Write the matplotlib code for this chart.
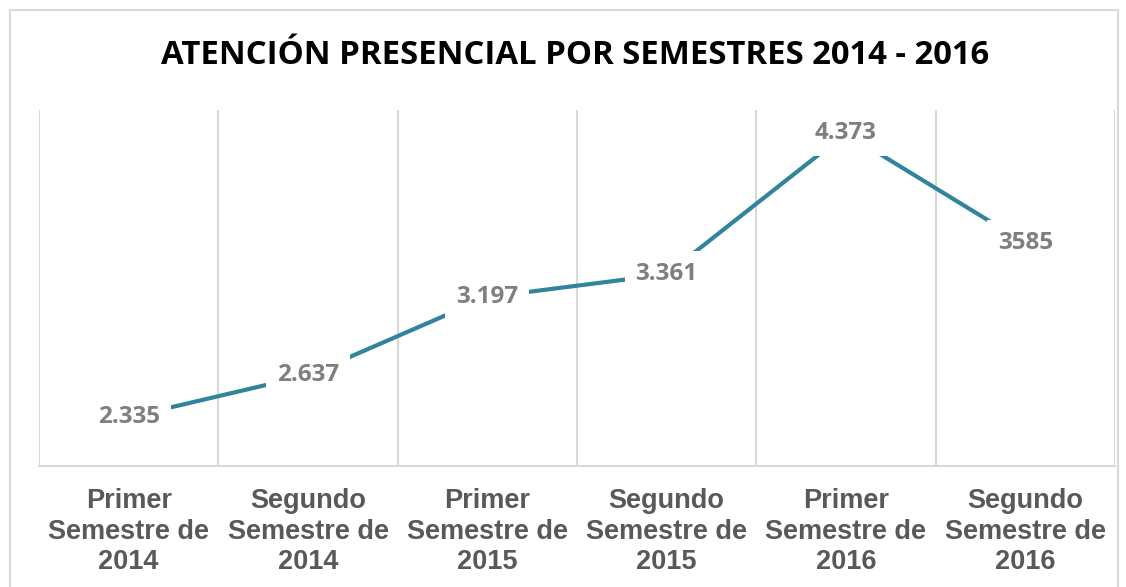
import matplotlib

matplotlib.use("Agg")
import matplotlib.pyplot as plt
from matplotlib.patches import Rectangle

categories = [
    "Primer\nSemestre de\n2014",
    "Segundo\nSemestre de\n2014",
    "Primer\nSemestre de\n2015",
    "Segundo\nSemestre de\n2015",
    "Primer\nSemestre de\n2016",
    "Segundo\nSemestre de\n2016",
]
values = [2335, 2637, 3197, 3361, 4373, 3585]
value_labels = ["2.335", "2.637", "3.197", "3.361", "4.373", "3585"]

LINE_COLOR = "#31849B"
GRID_COLOR = "#D9D9D9"

W, H = 1126, 587
fig = plt.figure(figsize=(W / 100, H / 100), dpi=100)

# outer chart border
fig.patches.append(
    Rectangle((10 / W, -0.05), 1108 / W, (H - 10) / H + 0.05,
              transform=fig.transFigure, fill=False,
              edgecolor=GRID_COLOR, linewidth=1.5)
)

ax = fig.add_axes([39 / W, (H - 466) / H, (1115 - 39) / W, (466 - 110) / H])
x = list(range(len(values)))
ax.plot(x, values, color=LINE_COLOR, linewidth=3, solid_capstyle="butt", zorder=2)

for xi, v, lab in zip(x, values, value_labels):
    ax.text(xi, v, lab, ha="center", va="center", fontsize=17.5,
            fontweight="bold", family="Open Sans", color="#7F7F7F", zorder=3,
            bbox=dict(boxstyle="square,pad=0.45", facecolor="white", edgecolor="none"))

ax.set_xlim(-0.5, len(values) - 0.5)
ax.set_ylim(1985, 4540)

# vertical gridlines between categories
for b in [i + 0.5 for i in range(-1, len(values))]:
    ax.axvline(b, color=GRID_COLOR, linewidth=1.5, zorder=1)

for s in ["top", "right", "left"]:
    ax.spines[s].set_visible(False)
ax.spines["bottom"].set_color(GRID_COLOR)
ax.spines["bottom"].set_linewidth(1.5)
ax.set_yticks([])
ax.set_xticks(x)
ax.set_xticklabels(categories, fontsize=19.5, fontweight="bold",
                   family="Liberation Sans", color="#595959", linespacing=1.22)
ax.tick_params(axis="x", length=0, pad=16)

fig.text(575 / W, 1 - 55 / H, "ATENCIÓN PRESENCIAL POR SEMESTRES 2014 - 2016",
         ha="center", va="center", fontsize=23.7, fontweight="bold",
         family="Open Sans", color="black")

fig.savefig("out.png", dpi=100)
